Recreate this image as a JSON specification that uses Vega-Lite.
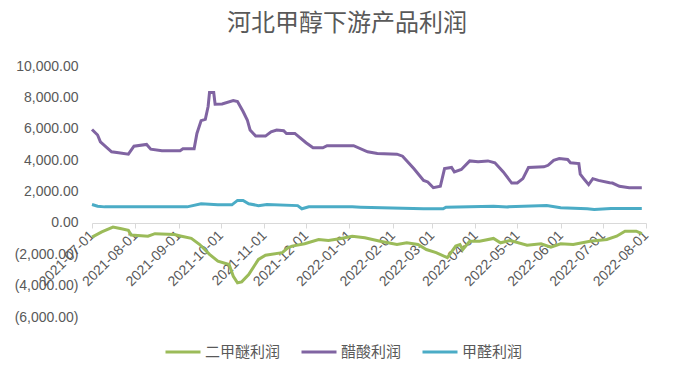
{
  "$schema": "https://vega.github.io/schema/vega-lite/v6.json",
  "autosize": "none",
  "width": 554,
  "height": 251,
  "padding": {"left": 92, "top": 66, "right": 34, "bottom": 60},
  "background": "white",
  "title": {"text": "河北甲醇下游产品利润", "font": "Noto Sans CJK SC", "fontSize": 24, "fontWeight": "normal", "color": "#595959", "anchor": "middle", "offset": 23, "dx": -22},
  "config": {"view": {"stroke": null}},
  "data": {"values": [
    {"date": "2021-07-01", "series": "二甲醚利润", "value": -910},
    {"date": "2021-07-08", "series": "二甲醚利润", "value": -570},
    {"date": "2021-07-16", "series": "二甲醚利润", "value": -270},
    {"date": "2021-07-22", "series": "二甲醚利润", "value": -380},
    {"date": "2021-07-27", "series": "二甲醚利润", "value": -480},
    {"date": "2021-07-29", "series": "二甲醚利润", "value": -780},
    {"date": "2021-08-10", "series": "二甲醚利润", "value": -850},
    {"date": "2021-08-15", "series": "二甲醚利润", "value": -690},
    {"date": "2021-08-29", "series": "二甲醚利润", "value": -740},
    {"date": "2021-09-03", "series": "二甲醚利润", "value": -850},
    {"date": "2021-09-10", "series": "二甲醚利润", "value": -990},
    {"date": "2021-09-16", "series": "二甲醚利润", "value": -1380},
    {"date": "2021-09-23", "series": "二甲醚利润", "value": -2010},
    {"date": "2021-09-29", "series": "二甲醚利润", "value": -2440},
    {"date": "2021-10-07", "series": "二甲醚利润", "value": -2650},
    {"date": "2021-10-10", "series": "二甲醚利润", "value": -3400},
    {"date": "2021-10-13", "series": "二甲醚利润", "value": -3820},
    {"date": "2021-10-16", "series": "二甲醚利润", "value": -3760},
    {"date": "2021-10-21", "series": "二甲醚利润", "value": -3290},
    {"date": "2021-10-28", "series": "二甲醚利润", "value": -2330},
    {"date": "2021-11-02", "series": "二甲醚利润", "value": -2060},
    {"date": "2021-11-14", "series": "二甲醚利润", "value": -1900},
    {"date": "2021-11-18", "series": "二甲醚利润", "value": -1590},
    {"date": "2021-11-21", "series": "二甲醚利润", "value": -1480},
    {"date": "2021-11-30", "series": "二甲醚利润", "value": -1330},
    {"date": "2021-12-10", "series": "二甲醚利润", "value": -1060},
    {"date": "2021-12-17", "series": "二甲醚利润", "value": -1120},
    {"date": "2021-12-26", "series": "二甲醚利润", "value": -990},
    {"date": "2022-01-03", "series": "二甲醚利润", "value": -850},
    {"date": "2022-01-12", "series": "二甲醚利润", "value": -950},
    {"date": "2022-01-23", "series": "二甲醚利润", "value": -1170},
    {"date": "2022-02-04", "series": "二甲醚利润", "value": -1380},
    {"date": "2022-02-11", "series": "二甲醚利润", "value": -1270},
    {"date": "2022-02-19", "series": "二甲醚利润", "value": -1380},
    {"date": "2022-02-25", "series": "二甲醚利润", "value": -1700},
    {"date": "2022-03-04", "series": "二甲醚利润", "value": -1900},
    {"date": "2022-03-12", "series": "二甲醚利润", "value": -2220},
    {"date": "2022-03-18", "series": "二甲醚利润", "value": -1480},
    {"date": "2022-03-21", "series": "二甲醚利润", "value": -1380},
    {"date": "2022-03-23", "series": "二甲醚利润", "value": -1700},
    {"date": "2022-03-28", "series": "二甲醚利润", "value": -1170},
    {"date": "2022-04-04", "series": "二甲醚利润", "value": -1170},
    {"date": "2022-04-14", "series": "二甲醚利润", "value": -990},
    {"date": "2022-04-19", "series": "二甲醚利润", "value": -1270},
    {"date": "2022-04-26", "series": "二甲醚利润", "value": -1120},
    {"date": "2022-05-08", "series": "二甲醚利润", "value": -1420},
    {"date": "2022-05-18", "series": "二甲醚利润", "value": -1330},
    {"date": "2022-05-25", "series": "二甲醚利润", "value": -1550},
    {"date": "2022-06-01", "series": "二甲醚利润", "value": -1330},
    {"date": "2022-06-10", "series": "二甲醚利润", "value": -1380},
    {"date": "2022-06-22", "series": "二甲醚利润", "value": -1170},
    {"date": "2022-07-04", "series": "二甲醚利润", "value": -1060},
    {"date": "2022-07-11", "series": "二甲醚利润", "value": -850},
    {"date": "2022-07-17", "series": "二甲醚利润", "value": -530},
    {"date": "2022-07-25", "series": "二甲醚利润", "value": -530},
    {"date": "2022-07-29", "series": "二甲醚利润", "value": -690},

    {"date": "2021-07-01", "series": "醋酸利润", "value": 5950},
    {"date": "2021-07-05", "series": "醋酸利润", "value": 5600},
    {"date": "2021-07-07", "series": "醋酸利润", "value": 5170},
    {"date": "2021-07-15", "series": "醋酸利润", "value": 4530},
    {"date": "2021-07-20", "series": "醋酸利润", "value": 4470},
    {"date": "2021-07-27", "series": "醋酸利润", "value": 4380},
    {"date": "2021-07-31", "series": "醋酸利润", "value": 4890},
    {"date": "2021-08-09", "series": "醋酸利润", "value": 5000},
    {"date": "2021-08-12", "series": "醋酸利润", "value": 4700},
    {"date": "2021-08-20", "series": "醋酸利润", "value": 4600},
    {"date": "2021-09-02", "series": "醋酸利润", "value": 4600},
    {"date": "2021-09-04", "series": "醋酸利润", "value": 4720},
    {"date": "2021-09-12", "series": "醋酸利润", "value": 4720},
    {"date": "2021-09-14", "series": "醋酸利润", "value": 5700},
    {"date": "2021-09-17", "series": "醋酸利润", "value": 6520},
    {"date": "2021-09-20", "series": "醋酸利润", "value": 6600},
    {"date": "2021-09-22", "series": "醋酸利润", "value": 7420},
    {"date": "2021-09-23", "series": "醋酸利润", "value": 8310},
    {"date": "2021-09-26", "series": "醋酸利润", "value": 8310},
    {"date": "2021-09-27", "series": "醋酸利润", "value": 7560},
    {"date": "2021-10-02", "series": "醋酸利润", "value": 7580},
    {"date": "2021-10-10", "series": "醋酸利润", "value": 7800},
    {"date": "2021-10-13", "series": "醋酸利润", "value": 7740},
    {"date": "2021-10-17", "series": "醋酸利润", "value": 7100},
    {"date": "2021-10-20", "series": "醋酸利润", "value": 6560},
    {"date": "2021-10-22", "series": "醋酸利润", "value": 5920},
    {"date": "2021-10-26", "series": "醋酸利润", "value": 5530},
    {"date": "2021-11-02", "series": "醋酸利润", "value": 5530},
    {"date": "2021-11-06", "series": "醋酸利润", "value": 5810},
    {"date": "2021-11-10", "series": "醋酸利润", "value": 5920},
    {"date": "2021-11-15", "series": "醋酸利润", "value": 5880},
    {"date": "2021-11-17", "series": "醋酸利润", "value": 5700},
    {"date": "2021-11-23", "series": "醋酸利润", "value": 5700},
    {"date": "2021-12-01", "series": "醋酸利润", "value": 5110},
    {"date": "2021-12-06", "series": "醋酸利润", "value": 4790},
    {"date": "2021-12-13", "series": "醋酸利润", "value": 4790},
    {"date": "2021-12-16", "series": "醋酸利润", "value": 4920},
    {"date": "2022-01-04", "series": "醋酸利润", "value": 4920},
    {"date": "2022-01-14", "series": "醋酸利润", "value": 4530},
    {"date": "2022-01-21", "series": "醋酸利润", "value": 4420},
    {"date": "2022-02-04", "series": "醋酸利润", "value": 4380},
    {"date": "2022-02-08", "series": "醋酸利润", "value": 4250},
    {"date": "2022-02-16", "series": "醋酸利润", "value": 3460},
    {"date": "2022-02-23", "series": "醋酸利润", "value": 2710},
    {"date": "2022-02-26", "series": "醋酸利润", "value": 2610},
    {"date": "2022-03-02", "series": "醋酸利润", "value": 2240},
    {"date": "2022-03-07", "series": "醋酸利润", "value": 2330},
    {"date": "2022-03-10", "series": "醋酸利润", "value": 3460},
    {"date": "2022-03-15", "series": "醋酸利润", "value": 3530},
    {"date": "2022-03-17", "series": "醋酸利润", "value": 3250},
    {"date": "2022-03-22", "series": "醋酸利润", "value": 3400},
    {"date": "2022-03-28", "series": "醋酸利润", "value": 3950},
    {"date": "2022-04-03", "series": "醋酸利润", "value": 3890},
    {"date": "2022-04-10", "series": "醋酸利润", "value": 3950},
    {"date": "2022-04-15", "series": "醋酸利润", "value": 3830},
    {"date": "2022-04-21", "series": "醋酸利润", "value": 3250},
    {"date": "2022-04-27", "series": "醋酸利润", "value": 2540},
    {"date": "2022-05-01", "series": "醋酸利润", "value": 2540},
    {"date": "2022-05-05", "series": "醋酸利润", "value": 2820},
    {"date": "2022-05-09", "series": "醋酸利润", "value": 3530},
    {"date": "2022-05-20", "series": "醋酸利润", "value": 3570},
    {"date": "2022-05-23", "series": "醋酸利润", "value": 3670},
    {"date": "2022-05-27", "series": "醋酸利润", "value": 3990},
    {"date": "2022-05-31", "series": "醋酸利润", "value": 4100},
    {"date": "2022-06-06", "series": "醋酸利润", "value": 4040},
    {"date": "2022-06-08", "series": "醋酸利润", "value": 3830},
    {"date": "2022-06-14", "series": "醋酸利润", "value": 3780},
    {"date": "2022-06-15", "series": "醋酸利润", "value": 3100},
    {"date": "2022-06-18", "series": "醋酸利润", "value": 2760},
    {"date": "2022-06-21", "series": "醋酸利润", "value": 2440},
    {"date": "2022-06-24", "series": "醋酸利润", "value": 2820},
    {"date": "2022-06-28", "series": "醋酸利润", "value": 2710},
    {"date": "2022-07-06", "series": "醋酸利润", "value": 2560},
    {"date": "2022-07-08", "series": "醋酸利润", "value": 2540},
    {"date": "2022-07-13", "series": "醋酸利润", "value": 2330},
    {"date": "2022-07-20", "series": "醋酸利润", "value": 2240},
    {"date": "2022-07-29", "series": "醋酸利润", "value": 2240},

    {"date": "2021-07-01", "series": "甲醛利润", "value": 1170},
    {"date": "2021-07-05", "series": "甲醛利润", "value": 1060},
    {"date": "2021-07-10", "series": "甲醛利润", "value": 1020},
    {"date": "2021-09-07", "series": "甲醛利润", "value": 1020},
    {"date": "2021-09-17", "series": "甲醛利润", "value": 1220},
    {"date": "2021-09-29", "series": "甲醛利润", "value": 1150},
    {"date": "2021-10-09", "series": "甲醛利润", "value": 1150},
    {"date": "2021-10-13", "series": "甲醛利润", "value": 1430},
    {"date": "2021-10-17", "series": "甲醛利润", "value": 1430},
    {"date": "2021-10-21", "series": "甲醛利润", "value": 1220},
    {"date": "2021-10-28", "series": "甲醛利润", "value": 1100},
    {"date": "2021-11-03", "series": "甲醛利润", "value": 1170},
    {"date": "2021-11-25", "series": "甲醛利润", "value": 1100},
    {"date": "2021-11-28", "series": "甲醛利润", "value": 900},
    {"date": "2021-12-03", "series": "甲醛利润", "value": 1020},
    {"date": "2022-01-03", "series": "甲醛利润", "value": 1020},
    {"date": "2022-01-09", "series": "甲醛利润", "value": 1000},
    {"date": "2022-02-23", "series": "甲醛利润", "value": 900},
    {"date": "2022-03-09", "series": "甲醛利润", "value": 900},
    {"date": "2022-03-11", "series": "甲醛利润", "value": 1000},
    {"date": "2022-04-14", "series": "甲醛利润", "value": 1060},
    {"date": "2022-04-24", "series": "甲醛利润", "value": 1020},
    {"date": "2022-05-22", "series": "甲醛利润", "value": 1100},
    {"date": "2022-06-01", "series": "甲醛利润", "value": 960},
    {"date": "2022-06-20", "series": "甲醛利润", "value": 900},
    {"date": "2022-06-25", "series": "甲醛利润", "value": 860},
    {"date": "2022-07-07", "series": "甲醛利润", "value": 920},
    {"date": "2022-07-29", "series": "甲醛利润", "value": 920}
  ]},
  "mark": {"type": "line", "strokeWidth": 3, "interpolate": "linear"},
  "encoding": {
    "x": {
      "field": "date", "type": "temporal",
      "scale": {"type": "utc", "domain": ["2021-07-01", "2022-08-01"]},
      "axis": {
        "title": null,
        "labelExpr": "utcFormat(datum.value, '%Y-%m-%d')",
        "tickCount": {"interval": "month", "step": 1},
        "labelAngle": -45, "labelAlign": "right", "labelBaseline": "middle",
        "labelFont": "Liberation Sans", "labelFontSize": 14, "labelColor": "#595959",
        "labelPadding": 5, "labelOverlap": false, "labelFlush": false, "labelBound": false,
        "domainColor": "#d9d9d9", "tickColor": "#d9d9d9", "tickSize": 5,
        "grid": false, "offset": -94
      }
    },
    "y": {
      "field": "value", "type": "quantitative",
      "scale": {"domain": [-6000, 10000], "nice": false, "zero": false},
      "axis": {
        "title": null, "values": [-6000, -4000, -2000, 0, 2000, 4000, 6000, 8000, 10000],
        "labelExpr": "datum.value < 0 ? '(' + format(-datum.value, ',.2f') + ')' : format(datum.value, ',.2f')",
        "labelFont": "Liberation Sans", "labelFontSize": 14, "labelColor": "#595959",
        "labelPadding": 14, "domain": false, "ticks": false, "grid": false
      }
    },
    "color": {
      "field": "series", "type": "nominal",
      "scale": {"domain": ["二甲醚利润", "醋酸利润", "甲醛利润"], "range": ["#9BBB59", "#8064A2", "#4BACC6"]},
      "legend": {
        "title": null, "orient": "none", "direction": "horizontal",
        "legendX": 72, "legendY": 267,
        "symbolType": "stroke", "symbolSize": 1225, "symbolStrokeWidth": 3,
        "labelFont": "Noto Sans CJK SC", "labelFontSize": 15, "labelColor": "#595959",
        "columnPadding": 14, "labelOffset": 3
      }
    }
  }
}
